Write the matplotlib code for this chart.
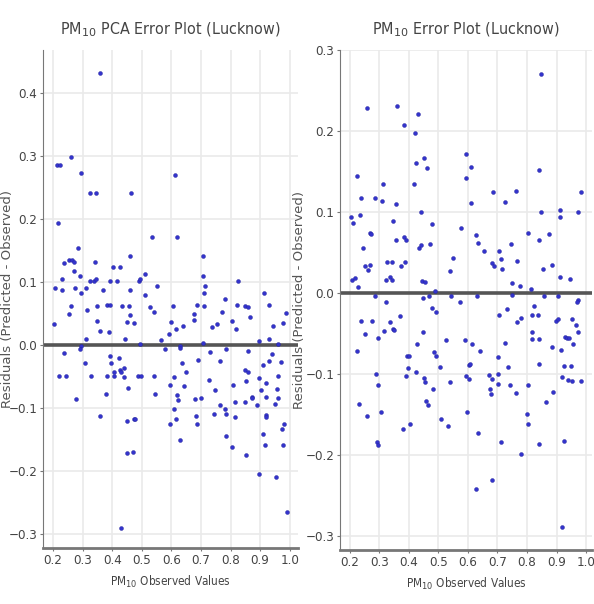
import numpy as np
import matplotlib
matplotlib.use('Agg')
import matplotlib.pyplot as plt
from matplotlib import font_manager

# residuals, PCA model (left)
pca_obs = [0.358, 0.2135, 0.225, 0.259, 0.295, 0.324, 0.346, 0.464, 0.611, 0.216,
           0.534, 0.619, 0.284, 0.236, 0.253, 0.264, 0.272, 0.343, 0.459, 0.707,
           0.403, 0.427, 0.272, 0.292, 0.229, 0.326, 0.337, 0.346, 0.391, 0.416,
           0.489, 0.495, 0.512, 0.707, 0.825, 0.205, 0.230, 0.275, 0.295, 0.311,
           0.369, 0.459, 0.551, 0.715, 0.709, 0.510, 0.782, 0.914, 0.929,
           0.261, 0.349, 0.382, 0.394, 0.433, 0.456, 0.529, 0.605, 0.686, 0.709,
           0.822, 0.850,
           0.2045, 0.253, 0.315, 0.349, 0.360, 0.390, 0.313, 0.444, 0.450, 0.461,
           0.475, 0.542, 0.599, 0.591, 0.617, 0.639, 0.675, 0.678, 0.738, 0.754,
           0.771, 0.805, 0.819, 0.867, 0.895, 0.929, 0.942, 0.977, 0.988, 0.565,
           0.858, 0.293, 0.493, 0.630, 0.707, 0.959,
           0.238, 0.290, 0.220, 0.245, 0.309, 0.328, 0.278,
           0.394, 0.397, 0.405, 0.407, 0.423, 0.425, 0.431, 0.439, 0.441, 0.452,
           0.382, 0.380, 0.360, 0.486, 0.498, 0.540, 0.546, 0.450, 0.475, 0.478,
           0.450, 0.470, 0.431, 0.577, 0.630, 0.635, 0.649, 0.608, 0.594, 0.643,
           0.619, 0.623, 0.608, 0.617, 0.596, 0.630, 0.691, 0.679, 0.700, 0.682,
           0.686, 0.729, 0.765, 0.728, 0.747, 0.765, 0.743, 0.782, 0.783, 0.783,
           0.786, 0.808, 0.815, 0.814, 0.806, 0.849, 0.851, 0.860, 0.849, 0.858,
           0.851, 0.871, 0.873, 0.896, 0.889, 0.903, 0.919, 0.910, 0.929, 0.940,
           0.919, 0.921, 0.921, 0.951, 0.960, 0.957, 0.910, 0.918, 0.897, 0.952,
           0.962, 0.972, 0.974, 0.979, 0.976, 0.991]
pca_resid = [0.432, 0.286, 0.286, 0.299, 0.273, 0.241, 0.241, 0.241, 0.270, 0.193,
             0.172, 0.172, 0.154, 0.130, 0.135, 0.135, 0.132, 0.132, 0.141, 0.141,
             0.124, 0.124, 0.117, 0.110, 0.105, 0.102, 0.102, 0.105, 0.102, 0.102,
             0.101, 0.104, 0.113, 0.109, 0.101, 0.090, 0.088, 0.090, 0.082, 0.090,
             0.088, 0.088, 0.094, 0.093, 0.082, 0.080, 0.073, 0.082, 0.063,
             0.062, 0.062, 0.064, 0.064, 0.062, 0.062, 0.061, 0.062, 0.064, 0.062,
             0.063, 0.062,
             0.033, 0.049, 0.056, 0.038, 0.022, 0.021, 0.010, 0.009, 0.036, 0.048,
             0.035, 0.053, 0.037, 0.017, 0.026, 0.030, 0.049, 0.039, 0.029, 0.033,
             0.052, 0.038, 0.026, 0.044, 0.006, 0.010, 0.030, 0.035, 0.051, 0.008,
             0.060, -0.002, 0.001, -0.002, 0.004, 0.001,
             -0.012, -0.007, -0.049, -0.049, -0.029, -0.049, -0.086,
             -0.018, -0.029, -0.042, -0.049, -0.020, -0.039, -0.042, -0.036, -0.050, -0.068,
             -0.049, -0.078, -0.113, -0.049, -0.049, -0.049, -0.078, -0.120, -0.117, -0.117,
             -0.172, -0.170, -0.290, -0.007, -0.004, -0.028, -0.042, -0.050, -0.063, -0.065,
             -0.079, -0.087, -0.101, -0.117, -0.125, -0.150, -0.024, -0.086, -0.084, -0.112,
             -0.125, -0.011, -0.026, -0.056, -0.072, -0.095, -0.110, -0.102, -0.109, -0.145,
             -0.007, -0.063, -0.090, -0.114, -0.162, -0.091, -0.174, -0.010, -0.039, -0.043,
             -0.057, -0.083, -0.084, -0.053, -0.095, -0.072, -0.082, -0.031, -0.026, -0.015,
             -0.060, -0.111, -0.114, -0.093, -0.084, -0.070, -0.141, -0.158, -0.204, -0.209,
             -0.049, -0.027, -0.133, -0.126, -0.158, -0.265]

# residuals, base model (right)
base_obs = [0.849, 0.259, 0.360, 0.382, 0.431, 0.421, 0.423, 0.451, 0.463, 0.594,
            0.594, 0.612, 0.612, 0.416, 0.842, 0.226, 0.239, 0.203, 0.212, 0.235,
            0.285, 0.310, 0.312, 0.358, 0.346, 0.440, 0.479, 0.686, 0.726, 0.762,
            0.847, 0.913, 0.913, 0.972, 0.983, 0.270, 0.273, 0.245, 0.357, 0.384,
            0.390, 0.436, 0.441, 0.473, 0.578, 0.628, 0.634, 0.655, 0.705, 0.713,
            0.716, 0.682, 0.687, 0.745, 0.765, 0.804, 0.841, 0.854, 0.876, 0.884,
            0.913, 0.946, 0.250, 0.262, 0.268, 0.326, 0.343, 0.324, 0.337, 0.343,
            0.375, 0.387, 0.443, 0.454, 0.539, 0.550, 0.206, 0.217, 0.228, 0.749,
            0.775, 0.812, 0.488,
            0.287, 0.447, 0.469, 0.544, 0.630, 0.749, 0.857, 0.905, 0.972,
            0.324, 0.477, 0.492, 0.574, 0.237, 0.276, 0.250, 0.295, 0.315, 0.335,
            0.346, 0.349, 0.369, 0.223, 0.449, 0.429, 0.393, 0.402, 0.396, 0.391,
            0.290, 0.295, 0.425, 0.453, 0.456, 0.485, 0.492, 0.483, 0.507, 0.525,
            0.539, 0.458, 0.465, 0.231, 0.257, 0.307, 0.293, 0.295, 0.380, 0.404,
            0.508, 0.531, 0.589, 0.615, 0.641, 0.603, 0.606, 0.592, 0.605, 0.598,
            0.634, 0.628, 0.682, 0.670, 0.683, 0.676, 0.677, 0.703, 0.703, 0.702,
            0.706, 0.734, 0.725, 0.737, 0.744, 0.762, 0.712, 0.767, 0.780, 0.780,
            0.804, 0.800, 0.804, 0.816, 0.825, 0.818, 0.816, 0.838, 0.840, 0.840,
            0.842, 0.863, 0.885, 0.887, 0.898, 0.905, 0.916, 0.929, 0.936, 0.943,
            0.917, 0.926, 0.938, 0.950, 0.953, 0.926, 0.919, 0.956, 0.953, 0.965,
            0.971, 0.983, 0.969]
base_resid = [0.271, 0.228, 0.231, 0.207, 0.221, 0.198, 0.161, 0.167, 0.154, 0.172,
              0.142, 0.156, 0.111, 0.135, 0.152, 0.144, 0.117, 0.094, 0.086, 0.097,
              0.117, 0.114, 0.135, 0.110, 0.089, 0.100, 0.085, 0.125, 0.112, 0.126,
              0.100, 0.102, 0.094, 0.100, 0.125, 0.074, 0.073, 0.056, 0.065, 0.069,
              0.066, 0.056, 0.059, 0.061, 0.080, 0.072, 0.062, 0.052, 0.052, 0.042,
              0.030, 0.037, 0.034, 0.061, 0.040, 0.074, 0.065, 0.030, 0.073, 0.035,
              0.020, 0.018, 0.033, 0.028, 0.035, 0.038, 0.038, 0.016, 0.020, 0.016,
              0.033, 0.038, 0.015, 0.014, 0.027, 0.043, 0.016, 0.019, 0.008, 0.013,
              0.009, 0.005, 0.002,
              -0.004, -0.006, -0.004, -0.004, -0.004, -0.002, -0.004, -0.004, -0.008,
              -0.011, -0.018, -0.023, -0.011, -0.035, -0.035, -0.051, -0.056, -0.047, -0.036,
              -0.044, -0.046, -0.028, -0.072, -0.048, -0.063, -0.077, -0.077, -0.093, -0.102,
              -0.100, -0.113, -0.097, -0.105, -0.110, -0.073, -0.077, -0.118, -0.091, -0.058,
              -0.110, -0.133, -0.138, -0.137, -0.152, -0.147, -0.184, -0.188, -0.168, -0.162,
              -0.155, -0.164, -0.058, -0.063, -0.072, -0.089, -0.088, -0.102, -0.106, -0.147,
              -0.173, -0.242, -0.231, -0.101, -0.106, -0.118, -0.124, -0.079, -0.100, -0.112,
              -0.027, -0.019, -0.062, -0.091, -0.114, -0.123, -0.184, -0.036, -0.031, -0.199,
              -0.114, -0.149, -0.161, -0.027, -0.016, -0.048, -0.057, -0.027, -0.057, -0.088,
              -0.186, -0.134, -0.066, -0.122, -0.035, -0.032, -0.070, -0.054, -0.056, -0.056,
              -0.103, -0.090, -0.107, -0.090, -0.108, -0.183, -0.289, -0.063, -0.032, -0.039,
              -0.048, -0.109, -0.011]

xticks = [0.2, 0.3, 0.4, 0.5, 0.6, 0.7, 0.8, 0.9, 1.0]

# a condensed face for ticks and titles if one is installed
cond = None
for f in font_manager.fontManager.ttflist:
    if f.name == 'DejaVu Sans' and f.stretch == 'condensed' and f.weight in (400, 'normal') \
            and f.style == 'normal':
        cond = font_manager.FontProperties(fname=f.fname)
        break
for nm in ['Liberation Sans Narrow', 'Roboto Condensed', 'Open Sans Condensed']:
    if cond is None and any(f.name == nm for f in font_manager.fontManager.ttflist):
        cond = font_manager.FontProperties(family=nm)
if cond is None:
    cond = font_manager.FontProperties(family='Roboto')


def fp(size):
    p = cond.copy()
    p.set_size(size)
    return p


fig = plt.figure(figsize=(5.94, 6.04), dpi=100)
ax1 = fig.add_axes([0.0724, 0.0927, 0.4293, 0.8245])
ax2 = fig.add_axes([0.5724, 0.0894, 0.4242, 0.8278])

panels = [
    (ax1, pca_obs, pca_resid, r'PM$_{10}$ PCA Error Plot (Lucknow)',
     (0.166, 1.028), (-0.322, 0.468), [-0.3, -0.2, -0.1, 0.0, 0.1, 0.2, 0.3, 0.4], -0.115),
    (ax2, base_obs, base_resid, r'PM$_{10}$ Error Plot (Lucknow)',
     (0.167, 1.02), (-0.317, 0.3), [-0.3, -0.2, -0.1, 0.0, 0.1, 0.2, 0.3], -0.135),
]

for ax, xs, ys, title, xl, yl, yt, ylx in panels:
    ax.scatter(xs, ys, s=8, color='#3333cc', edgecolors='#20209a', linewidths=0.3, zorder=3)
    ax.axhline(0, color='#555555', lw=2.6, zorder=2)
    ax.set_xlim(*xl)
    ax.set_ylim(*yl)
    ax.set_xticks(xticks)
    ax.set_yticks(yt)
    ax.grid(True, color='#eaeaea', lw=1.2)
    ax.set_axisbelow(True)
    for s in ['top', 'right']:
        ax.spines[s].set_visible(False)
    ax.spines['left'].set_color('#777777')
    ax.spines['bottom'].set_color('#777777')
    ax.spines['bottom'].set_linewidth(2)
    ax.tick_params(length=2, pad=2, color='#777777', labelcolor='#444444')
    for lab in ax.get_xticklabels() + ax.get_yticklabels():
        lab.set_fontproperties(fp(9.5))
    ax.set_title(title, fontproperties=fp(11.5), color='#444444', pad=11)
    ax.set_xlabel(r'PM$_{10}$ Observed Values', fontproperties=fp(8.5),
                  color='#444444', labelpad=5)
    ax.set_ylabel('Residuals (Predicted - Observed)', fontsize=9.5, color='#555555')
    ax.yaxis.set_label_coords(ylx, 0.5)

fig.savefig('out.png', dpi=100)
